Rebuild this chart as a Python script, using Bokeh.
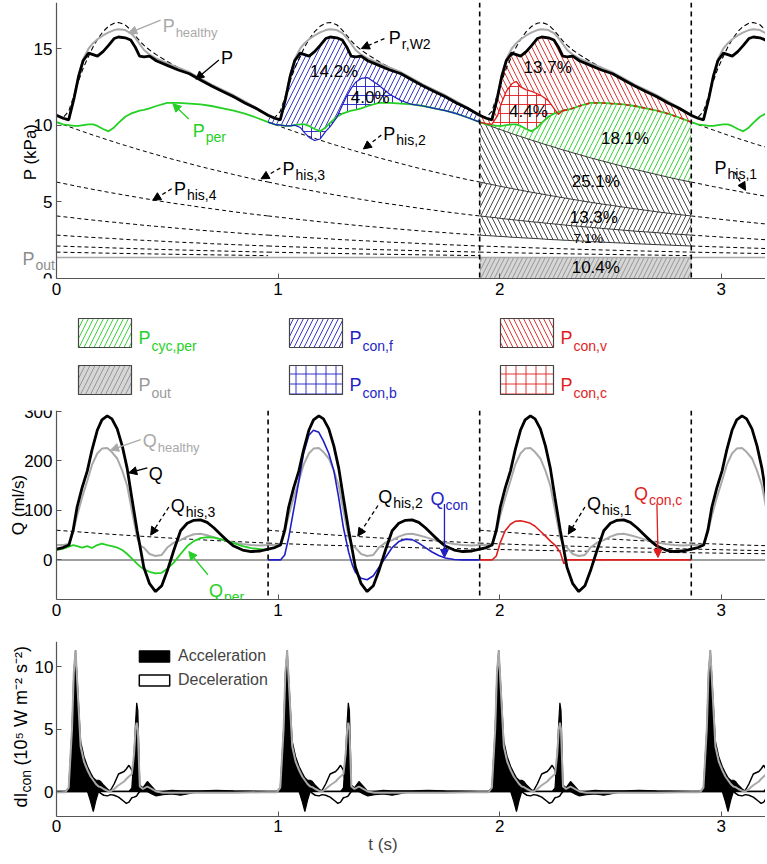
import numpy as np
from math import pi
from bokeh.plotting import figure
from bokeh.layouts import column
from bokeh.models import Range1d, Span, Label, Arrow, NormalHead, Legend, LegendItem
from bokeh.embed import file_html
from bokeh.resources import INLINE

FONT = "Liberation Sans"
GREEN = "#25d025"
BLUE = "#1f1fc4"
RED = "#e01e1e"
GRAY = "#a9a9a9"
AXIS = "#555555"

# ---------------- data ----------------
PERIOD = 0.955          # beat length (s)
N_BEATS = 4
T_MIN, T_MAX = 0.0, 3.2
P_BEAT_MARKS = [1.91, 2.865]
Q_BEAT_MARKS = [0.955, 1.91, 2.865]
P_OUT = 1.37

# pressure panel, one beat on a common phase grid (s)
TAU_P = [0.00, 0.03, 0.055, 0.08, 0.10, 0.12, 0.145, 0.165, 0.185, 0.21, 0.235, 0.26, 0.28, 0.31, 0.335,
         0.355, 0.375, 0.395, 0.42, 0.45, 0.50, 0.55, 0.60, 0.65, 0.70, 0.75, 0.80, 0.85, 0.90, 0.955]
P_MEAS = [10.65, 10.45, 10.35, 11.8, 13.2, 14.2, 14.7, 14.6, 14.5, 14.8, 15.2, 15.65, 15.75, 15.7, 15.55,
          15.1, 14.5, 14.45, 14.5, 14.2, 13.9, 13.6, 13.35, 12.95, 12.55, 12.2, 11.85, 11.45, 11.1, 10.7]
P_HEALTHY = [10.6, 10.45, 10.4, 11.9, 13.3, 14.3, 15.0, 15.35, 15.6, 15.85, 16.05, 16.2, 16.25, 16.2, 16.0,
             15.7, 15.3, 14.9, 14.6, 14.35, 14.05, 13.75, 13.45, 13.05, 12.65, 12.3, 11.95, 11.55, 11.15, 10.75]
P_RW2 = [10.6, 10.5, 10.9, 12.0, 12.9, 13.7, 14.5, 15.1, 15.6, 16.1, 16.45, 16.65, 16.7, 16.55, 16.2,
         15.85, 15.5, 15.2, 14.9, 14.6, 14.15, 13.75, 13.35, 12.95, 12.55, 12.2, 11.8, 11.45, 11.05, 10.7]
P_PER = [10.2, 10.05, 10.0, 9.95, 9.95, 10.0, 10.05, 10.05, 9.95, 9.75, 9.6, 9.85, 10.15, 10.55, 10.75,
         10.85, 10.95, 11.0, 11.1, 11.25, 11.45, 11.45, 11.4, 11.35, 11.25, 11.1, 10.95, 10.75, 10.5, 10.2]
P_CON_B = [10.2, 10.05, 10.0, 9.95, 9.95, 10.0, 9.85, 9.5, 9.2, 9.0, 9.1, 9.6, 9.9, 10.5, 11.3,
           11.9, 12.4, 12.8, 13.05, 13.1, 12.6, 12.0, 11.6, 11.35, 11.25, 11.1, 10.95, 10.75, 10.5, 10.2]
P_CON_C = [10.2, 10.1, 10.05, 10.6, 11.5, 12.2, 12.7, 12.85, 12.5, 12.3, 12.2, 12.05, 11.9, 11.6, 11.1,
           10.7, 10.95, 11.0, 11.1, 11.25, 11.45, 11.45, 11.4, 11.35, 11.25, 11.1, 10.95, 10.75, 10.5, 10.2]
P_HIS_SEG0 = [10.20, 10.04, 9.91, 9.78, 9.68, 9.58, 9.45, 9.35, 9.26, 9.14, 9.02, 8.91, 8.81, 8.68, 8.57,
              8.48, 8.39, 8.31, 8.20, 8.08, 7.87, 7.68, 7.49, 7.30, 7.12, 6.95, 6.78, 6.61, 6.45, 6.29]
P_HIS_SEG1 = [6.29, 6.20, 6.13, 6.05, 5.99, 5.94, 5.87, 5.81, 5.76, 5.69, 5.62, 5.56, 5.51, 5.43, 5.37,
              5.32, 5.27, 5.22, 5.16, 5.09, 4.97, 4.86, 4.76, 4.65, 4.55, 4.45, 4.35, 4.26, 4.17, 4.08]
P_HIS_SEG2 = [4.08, 4.03, 3.99, 3.95, 3.91, 3.88, 3.84, 3.81, 3.78, 3.74, 3.70, 3.67, 3.64, 3.59, 3.56,
              3.53, 3.50, 3.47, 3.44, 3.40, 3.34, 3.27, 3.21, 3.15, 3.09, 3.04, 2.99, 2.93, 2.88, 2.83]
P_HIS_SEG3 = [2.83, 2.80, 2.78, 2.75, 2.74, 2.72, 2.69, 2.68, 2.66, 2.64, 2.62, 2.60, 2.58, 2.55, 2.53,
              2.52, 2.50, 2.49, 2.47, 2.45, 2.41, 2.37, 2.34, 2.31, 2.27, 2.24, 2.21, 2.18, 2.15, 2.12]
TAU_C = [0.0, 0.24, 0.48, 0.72, 0.955]
P_HIS_SEG4 = [2.12, 2.00, 1.89, 1.80, 1.72]
P_HIS_SEG5 = [1.72, 1.65, 1.59, 1.54, 1.49]
P_PCT = [("14.2%", 1.253, 13.53), ("4.0%", 1.416, 11.83), ("13.7%", 2.217, 13.73), ("4.4%", 2.13, 10.92),
         ("18.1%", 2.566, 9.16), ("25.1%", 2.434, 6.3), ("13.3%", 2.425, 3.95), ("7.1%", 2.40, 2.64),
         ("10.4%", 2.434, 0.7)]

# flow panel
TAU_Q = [0.00, 0.03, 0.056, 0.075, 0.093, 0.115, 0.139, 0.16, 0.184, 0.205, 0.229, 0.25, 0.274, 0.297,
         0.319, 0.34, 0.364, 0.38, 0.394, 0.42, 0.447, 0.475, 0.50, 0.53, 0.56, 0.59, 0.62, 0.65, 0.68,
         0.71, 0.74, 0.77, 0.80, 0.84, 0.878, 0.92, 0.955]
Q_MEAS = [22, 25, 30, 60, 107, 145, 180, 222, 262, 283, 291, 285, 265, 230, 185, 125, 59, 20, -15, -48,
          -64, -52, -22, 20, 59, 74, 80, 81, 76, 65, 52, 39, 28, 20, 17, 18, 22]
Q_HEALTHY = [30, 30, 32, 55, 90, 125, 160, 192, 215, 225, 226, 218, 205, 180, 150, 100, 45, 28, 25, 12,
             8, 10, 25, 35, 40, 47, 52, 53, 50, 46, 42, 38, 35, 32, 30, 29, 30]
Q_PER = [20, 23, 27, 30, 28, 25, 28, 24, 30, 33, 30, 28, 25, 20, 12, 3, -8, -14, -19, -24,
         -27, -26, -18, -5, 12, 28, 38, 44, 46, 45, 42, 38, 34, 28, 24, 22, 20]
Q_CON = [0, 0, 0, 10, 45, 100, 160, 215, 252, 262, 258, 240, 215, 180, 125, 65, 15, -10, -25, -37,
         -40, -32, -15, 5, 25, 37, 42, 41, 34, 25, 16, 9, 4, 1, 0, 0, 0]
Q_CON_C = [0, 0, 0, 8, 35, 59, 72, 78, 79, 77, 74, 68, 58, 48, 38, 30, 15, -8, 0, 0,
           0, 0, 0, 0, 0, 0, 0, 0, 0, 0, 0, 0, 0, 0, 0, 0, 0]
Q_HIS_SEGS = [[60, 52, 45, 39, 34], [34, 30, 27, 24, 22], [22, 19.5, 17.5, 16, 14.5], [14.5, 13, 12, 11, 10]]

# wave-intensity panel
TAU_D = [0, 0.04, 0.055, 0.07, 0.078, 0.086, 0.095, 0.109, 0.124, 0.14, 0.154, 0.166, 0.178, 0.19, 0.2,
         0.213, 0.23, 0.244, 0.26, 0.28, 0.305, 0.315, 0.327, 0.34, 0.35, 0.357, 0.362, 0.367, 0.376, 0.39,
         0.41, 0.43, 0.45, 0.48, 0.52, 0.56, 0.65, 0.72, 0.8, 0.955]
DI_FWD_ACC = [0, 0, 0.3, 5.0, 9.5, 11.3, 8.5, 4.0, 2.8, 2.0, 1.5, 1.1, 0.9, 0.9, 0.8, 0.5, 0.2, 0, 0, 0,
              0, 0, 0, 0.3, 3.0, 5.6, 7.1, 6.5, 0.5, 0.3, 0.8, 0.4, 0, 0, 0.1, 0.05, 0.05, 0.1, 0.05, 0]
DI_FWD_DEC = [0, 0, 0, 0, 0, 0, 0, 0, 0, 0, 0, 0, 0, 0, 0, 0, 0, 0.1, 0.6, 1.4,
              1.6, 1.8, 2.1, 1.7, 0.5, 0, 0, 0, 0, 0, 0, 0, 0, 0, 0, 0, 0, 0, 0, 0]
DI_BWD_ACC = [0, 0, 0, 0, 0, 0, 0, 0, 0, 0, -0.8, -1.6, -0.7, 0, 0, 0, 0, 0, 0, 0,
              0, 0, 0, 0, 0, 0, 0, 0, 0, 0, 0, -0.2, -0.35, -0.25, -0.2, -0.3, 0, 0, 0, 0]
DI_BWD_DEC = [0, 0, 0, 0, 0, 0, 0, 0, 0, 0, 0, 0, 0, 0, -0.15, -0.3, -0.35, -0.25, -0.3, -0.45,
              -0.8, -0.95, -0.85, -0.5, -0.45, -0.4, -0.35, -0.2, 0, 0, 0, 0, 0, 0, 0, 0, 0, 0, 0, 0]
DI_HEALTHY = [-0.05, -0.05, 0.3, 5.0, 9.5, 11.3, 8.3, 3.6, 2.4, 1.7, 1.2, 0.9, 0.6, 0.4, 0.35, 0.2, 0.05, 0,
              0.2, 0.5, 0.8, 1.0, 1.2, 1.4, 3.0, 5.0, 5.5, 5.0, 0.4, 0.2, 0.4, 0.2, 0, -0.1, -0.1, -0.1,
              -0.1, -0.1, -0.1, -0.05]

X_TICKS = [0, 1, 2, 3]

# ---------------- layout constants ----------------
W = 765                 # frame width (whole figure width)
LEFT_PX = 56            # room left of t = 0 inside the frame for the y axis
PX_PER_S = (W - LEFT_PX) / (T_MAX - T_MIN)
X_LEFT = T_MIN - LEFT_PX / PX_PER_S
F1, FL, F2, F3 = 276, 94, 189, 175


# ---------------- helpers ----------------
def tile(tau, vals, beats):
    tau = np.asarray(tau, float)
    vals = np.asarray(vals, float)
    beats = list(beats)
    ts, vs = [], []
    for i, c in enumerate(beats):
        end = len(tau) if i == len(beats) - 1 else len(tau) - 1
        ts.append(tau[:end] + c * PERIOD)
        vs.append(vals[:end])
    return np.concatenate(ts), np.concatenate(vs)


def beat_t(tau, c):
    return np.asarray(tau, float) + c * PERIOD


def make_fig(frame_h, yr, top, bottom, standoff=4):
    p = figure(frame_width=W, frame_height=frame_h, x_range=Range1d(X_LEFT, T_MAX), y_range=Range1d(*yr),
               toolbar_location=None, output_backend="svg",
               min_border_left=0, min_border_right=0, min_border_top=top, min_border_bottom=bottom)
    p.xgrid.visible = False
    p.ygrid.visible = False
    p.outline_line_color = None
    for ax in (p.xaxis[0], p.yaxis[0]):
        ax.major_tick_in = 5
        ax.major_tick_out = 0
        ax.minor_tick_line_color = None
        ax.axis_line_color = AXIS
        ax.axis_line_width = 1.2
        ax.major_tick_line_color = AXIS
        ax.major_label_text_font = FONT
        ax.major_label_text_font_size = "17px"
        ax.major_label_text_color = "black"
        ax.major_label_standoff = standoff
    p.xaxis.ticker = X_TICKS
    p.xaxis.bounds = (T_MIN, T_MAX)
    p.yaxis.fixed_location = T_MIN
    return p


def txt(p, x, y, s, color="black", size=17, xo=0, yo=0, align="left", baseline="alphabetic", angle=0):
    p.add_layout(Label(x=x, y=y, x_offset=xo, y_offset=yo, text=s, text_color=color, text_font=FONT,
                       text_font_size=f"{size}px", text_align=align, text_baseline=baseline, angle=angle))


def sub_label(p, x, y, base, sub, color, size=18, ssize=14, xo=0, yo=0, drop=6):
    w = {"P": 0.667, "Q": 0.778}[base] * size
    txt(p, x, y, base, color, size, xo, yo)
    txt(p, x, y, sub, color, ssize, xo + w + 1, yo - drop)


def arrow(p, x0, y0, x1, y1, color="black", dashed=False):
    p.add_layout(Arrow(end=NormalHead(size=8, fill_color=color, line_color=color, line_width=1),
                       x_start=x0, y_start=y0, x_end=x1, y_end=y1, line_color=color, line_width=1.3,
                       line_dash="4 3" if dashed else "solid"))


def hatch_area(p, x, y1, y2, pattern, color, fill="white", fill_alpha=0.0, scale=10):
    p.varea(x=x, y1=y1, y2=y2, fill_color=fill, fill_alpha=fill_alpha, hatch_pattern=pattern,
            hatch_color=color, hatch_scale=scale, hatch_weight=0.9)


# ---------------- panel 1 : pressure ----------------
p1 = make_fig(F1, (0, 18), 2, 30)
p1.yaxis.ticker = [0, 5, 10, 15]

per = np.asarray(P_PER)
meas = np.asarray(P_MEAS)
conb = np.asarray(P_CON_B)
conc = np.asarray(P_CON_C)
seg0, seg1, seg2, seg3 = (np.asarray(s) for s in (P_HIS_SEG0, P_HIS_SEG1, P_HIS_SEG2, P_HIS_SEG3))

t2 = beat_t(TAU_P, 1)
t3 = beat_t(TAU_P, 2)
hatch_area(p1, [P_BEAT_MARKS[0], P_BEAT_MARKS[1]], [0, 0], [P_OUT, P_OUT], "/", "#8e8e8e",
           fill="#d6d6d6", fill_alpha=1.0, scale=9)
hatch_area(p1, t3, seg1, seg0, "\\", "#333333")
hatch_area(p1, t3, seg2, seg1, "/", "#333333")
hatch_area(p1, t3, seg3, seg2, "\\", "#333333")
hatch_area(p1, t3, seg0, np.maximum(per, seg0), "/", GREEN)
low_c = np.maximum(per, conc)
hatch_area(p1, t3, low_c, np.maximum(meas, low_c), "\\", RED)
hatch_area(p1, t3, per, conc, "+", RED, scale=9)
low_b = np.maximum(per, conb)
hatch_area(p1, t2, low_b, np.maximum(meas, low_b), "/", BLUE)
hatch_area(p1, t2, per, conb, "+", BLUE, scale=9)

dash_xs, dash_ys, sol_xs, sol_ys = [], [], [], []
for c in range(N_BEATS):
    for k, seg in enumerate((seg0, seg1, seg2, seg3)):
        if c == 2:
            sol_xs.append(beat_t(TAU_P, c)); sol_ys.append(seg)
        else:
            dash_xs.append(beat_t(TAU_P, c)); dash_ys.append(seg)
    for seg in (P_HIS_SEG4, P_HIS_SEG5):
        dash_xs.append(beat_t(TAU_C, c)); dash_ys.append(np.asarray(seg))
p1.multi_line(xs=dash_xs, ys=dash_ys, line_color="black", line_width=1, line_dash="4 3")
p1.multi_line(xs=sol_xs, ys=sol_ys, line_color="#222222", line_width=0.9)

p1.segment(x0=[T_MIN], x1=[T_MAX], y0=[P_OUT], y1=[P_OUT], line_color=GRAY, line_width=1.6)
for xb in P_BEAT_MARKS:
    p1.add_layout(Span(location=xb, dimension="height", line_color="black", line_width=1.6, line_dash="5 4"))

tx, vy = tile(TAU_P, P_RW2, range(N_BEATS))
p1.line(tx, vy, line_color="black", line_width=1.1, line_dash="5 3")
tx, vy = tile(TAU_P, P_HEALTHY, range(N_BEATS))
p1.line(tx, vy, line_color=GRAY, line_width=2)
tx, vy = tile(TAU_P, P_PER, range(N_BEATS))
p1.line(tx, vy, line_color=GREEN, line_width=1.8)
p1.line(t3[16:], per[16:], line_color=RED, line_width=1.6, line_dash="4 4")
p1.line(t2, conb, line_color=BLUE, line_width=1.2)
p1.line(t3[:18], conc[:18], line_color=RED, line_width=1.3)
tx, vy = tile(TAU_P, P_MEAS, range(N_BEATS))
p1.line(tx, vy, line_color="black", line_width=2.8)

for s, x, y in P_PCT:
    txt(p1, x, y, s, size=13 if s == "7.1%" else 17, align="center", baseline="middle")

sub_label(p1, 0.479, 16.46, "P", "healthy", GRAY, ssize=13)
arrow(p1, 0.47, 16.85, 0.326, 16.0, GRAY)
txt(p1, 0.742, 14.37, "P", size=18)
arrow(p1, 0.733, 14.25, 0.629, 13.0)
sub_label(p1, 0.615, 9.62, "P", "per", GREEN)
arrow(p1, 0.597, 10.4, 0.525, 11.4, GREEN)
sub_label(p1, 1.02, 7.13, "P", "his,3", "black")
arrow(p1, 1.01, 7.2, 0.923, 6.5, dashed=True)
sub_label(p1, 0.53, 5.84, "P", "his,4", "black")
arrow(p1, 0.52, 5.85, 0.434, 5.1, dashed=True)
sub_label(p1, 1.475, 9.4, "P", "his,2", "black")
arrow(p1, 1.466, 9.35, 1.385, 8.45, dashed=True)
sub_label(p1, 1.50, 15.7, "P", "r,W2", "black")
arrow(p1, 1.48, 15.65, 1.376, 15.0, dashed=True)
sub_label(p1, 2.97, 7.2, "P", "his,1", "black")
arrow(p1, 3.06, 6.95, 3.11, 5.75, dashed=True)
sub_label(p1, T_MIN, P_OUT, "P", "out", "#8c8c8c", xo=-34, yo=-2)
txt(p1, T_MIN, 8.25, "P (kPa)", size=17, xo=-26, align="center", angle=pi / 2)

# ---------------- legend strip ----------------
leg = figure(frame_width=W, frame_height=FL, x_range=Range1d(0, W), y_range=Range1d(0, FL),
             toolbar_location=None, output_backend="svg", min_border=0)
leg.axis.visible = False
leg.xgrid.visible = False
leg.ygrid.visible = False
leg.outline_line_color = None
LEGEND_KEYS = [("cyc,per", GREEN, "/", GREEN, "white", 0.0),
               ("con,f", BLUE, "/", BLUE, "white", 0.0),
               ("con,v", RED, "\\", RED, "white", 0.0),
               ("out", "#999999", "/", "#8e8e8e", "#d6d6d6", 1.0),
               ("con,b", BLUE, "+", BLUE, "white", 0.0),
               ("con,c", RED, "+", RED, "white", 0.0)]
COL_X = [78, 289, 500]
ROW_Y = [55, 8]
BOX_W, BOX_H = 53, 29
for i, (sub, tcol, pat, hcol, fcol, falpha) in enumerate(LEGEND_KEYS):
    x0 = COL_X[i % 3]
    y0 = ROW_Y[i // 3]
    leg.quad(left=x0, right=x0 + BOX_W, bottom=y0, top=y0 + BOX_H, fill_color=fcol, fill_alpha=falpha,
             hatch_pattern=pat, hatch_color=hcol, hatch_scale=10, hatch_weight=0.9,
             line_color="#444444", line_width=1.2)
    sub_label(leg, x0 + BOX_W + 7, y0 + 10, "P", sub, tcol, size=18, ssize=14, drop=8)

# ---------------- panel 2 : flow ----------------
p2 = make_fig(F2, (-80, 302), 8, 30)
p2.yaxis.ticker = [0, 100, 200, 300]
p2.segment(x0=[T_MIN], x1=[T_MAX], y0=[0], y1=[0], line_color="#808080", line_width=1.5)
qx, qy = [], []
for j in range(3):
    for c in range(j, N_BEATS):
        qx.append(beat_t(TAU_C, c)); qy.append(np.asarray(Q_HIS_SEGS[c - j], float))
p2.multi_line(xs=qx, ys=qy, line_color="black", line_width=1, line_dash="4 3")
for xb in Q_BEAT_MARKS:
    p2.add_layout(Span(location=xb, dimension="height", line_color="black", line_width=1.6, line_dash="5 4"))
tx, vy = tile(TAU_Q, Q_HEALTHY, range(N_BEATS))
p2.line(tx, vy, line_color=GRAY, line_width=2)
p2.line(beat_t(TAU_Q, 0), Q_PER, line_color=GREEN, line_width=1.8)
p2.line(beat_t(TAU_Q, 1), Q_CON, line_color=BLUE, line_width=1.6)
p2.line(beat_t(TAU_Q, 2), Q_CON_C, line_color=RED, line_width=1.6)
tx, vy = tile(TAU_Q, Q_MEAS, range(N_BEATS))
p2.line(tx, vy, line_color="black", line_width=2.8)

sub_label(p2, 0.389, 239.5, "Q", "healthy", GRAY, ssize=13)
arrow(p2, 0.38, 243, 0.244, 222, GRAY)
txt(p2, 0.416, 174.5, "Q", size=18)
arrow(p2, 0.41, 186, 0.326, 176)
sub_label(p2, 0.516, 109, "Q", "his,3", "black")
arrow(p2, 0.507, 107, 0.425, 50, dashed=True)
sub_label(p2, 0.688, -62, "Q", "per", GREEN)
arrow(p2, 0.683, -30, 0.597, 17, GREEN)
sub_label(p2, 1.452, 127, "Q", "his,2", "black")
arrow(p2, 1.451, 110, 1.36, 48, dashed=True)
sub_label(p2, 1.688, 123, "Q", "con", BLUE)
arrow(p2, 1.751, 113, 1.751, 5, BLUE)
sub_label(p2, 2.394, 113, "Q", "his,1", "black")
arrow(p2, 2.385, 107, 2.31, 52, dashed=True)
sub_label(p2, 2.606, 134, "Q", "con,c", RED)
arrow(p2, 2.71, 113, 2.715, 5, RED)
txt(p2, T_MIN, 111, "Q (ml/s)", size=17, xo=-38, align="center", angle=pi / 2)

# ---------------- panel 3 : wave intensity ----------------
p3 = make_fig(F3, (-2, 12), 12, 46, standoff=3)
p3.yaxis.ticker = [0, 5, 10]
p3.xaxis.axis_label = "t (s)"
p3.xaxis.axis_label_text_font = FONT
p3.xaxis.axis_label_text_font_style = "normal"
p3.xaxis.axis_label_text_font_size = "17px"
p3.xaxis.axis_label_standoff = 0


def polys(vals_list):
    xs, ys = [], []
    for c in range(N_BEATS):
        t = beat_t(TAU_D, c)
        for vals in vals_list:
            v = np.asarray(vals, float)
            xs.append(np.concatenate([t, t[::-1]]))
            ys.append(np.concatenate([v, np.zeros_like(v)]))
    return xs, ys


dxs, dys = polys([DI_FWD_DEC, DI_BWD_DEC])
dec_r = p3.patches(dxs, dys, fill_color="white", line_color="black", line_width=1.5)
axs, ays = polys([DI_FWD_ACC, DI_BWD_ACC])
acc_r = p3.patches(axs, ays, fill_color="black", line_color="black", line_width=1.2)
tx, vy = tile(TAU_D, DI_HEALTHY, range(N_BEATS))
p3.line(tx, vy, line_color=GRAY, line_width=2)

legend = Legend(items=[LegendItem(label="Acceleration", renderers=[acc_r]),
                       LegendItem(label="Deceleration", renderers=[dec_r])],
                location=(LEFT_PX + 79, F3 - 48), glyph_width=38, glyph_height=14, label_height=14,
                label_text_font=FONT, label_text_font_size="16px", background_fill_alpha=0,
                border_line_alpha=0, padding=0, spacing=6, label_standoff=5, margin=0)
p3.add_layout(legend)

txt(p3, T_MIN, -1.28, "dI", size=18, xo=-36, angle=pi / 2)
txt(p3, T_MIN, -1.28, "con", size=14, xo=-31, yo=15, angle=pi / 2)
txt(p3, T_MIN, -1.28, "(10\u2075 W m\u207b\u00b2 s\u207b\u00b2)", size=18, xo=-36, yo=42, angle=pi / 2)

layout = column(p1, leg, p2, p3)
open("out.html", "w").write(file_html(layout, INLINE, "chart"))
